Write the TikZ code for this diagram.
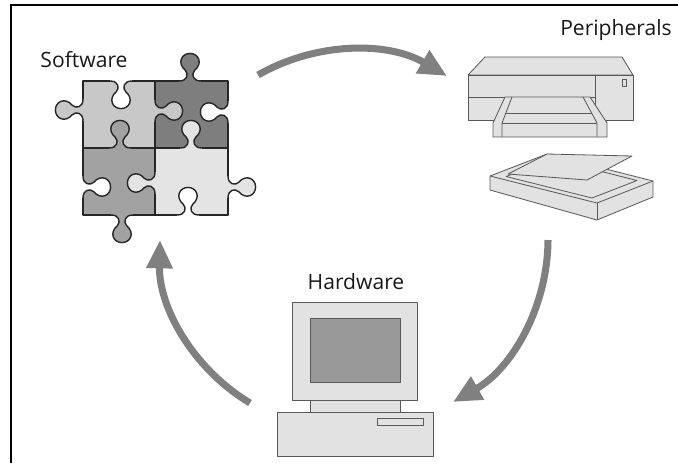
\documentclass[tikz,border=0pt]{standalone}
\usepackage{fontspec}
\setsansfont{Open Sans}
\usetikzlibrary{arrows.meta}

\definecolor{pieceA}{HTML}{C8C8C8}
\definecolor{pieceB}{HTML}{7E7E7E}
\definecolor{pieceC}{HTML}{A2A2A2}
\definecolor{pieceD}{HTML}{E4E4E4}
\definecolor{boxgrey}{HTML}{E2E2E2}
\definecolor{cyclegrey}{HTML}{808080}

\tikzset{
  piece line/.style={line width=1.2pt, color=black!85, line join=round},
  device/.style={line width=0.7pt, draw=black!65, fill=boxgrey, line join=round},
  label text/.style={font=\sffamily\fontsize{18}{20}\selectfont, text=black!90, anchor=base, inner sep=0pt},
  cycle arrow/.style={line width=6pt, color=cyclegrey, -{Triangle[length=0.85cm, width=0.75cm]}, bend left=30, looseness=0.92}
}

% one puzzle knob (or socket, when filled white) on an edge; local +y points out
\def\knob[#1](#2)(#3){
  \begin{scope}[shift={(#2)}, rotate=#3, scale=24]
    \fill[#1] (-0.45,-0.07) -- (-0.45,0) .. controls (-0.1,0) and (-0.05,0.3) .. (-0.2,0.45)
      .. controls (-0.55,0.75) and (-0.35,1.15) .. (0,1.15)
      .. controls (0.35,1.15) and (0.55,0.75) .. (0.2,0.45)
      .. controls (0.05,0.3) and (0.1,0) .. (0.45,0) -- (0.45,-0.07) -- cycle;
    \draw[piece line] (-0.45,0) .. controls (-0.1,0) and (-0.05,0.3) .. (-0.2,0.45)
      .. controls (-0.55,0.75) and (-0.35,1.15) .. (0,1.15)
      .. controls (0.35,1.15) and (0.55,0.75) .. (0.2,0.45)
      .. controls (0.05,0.3) and (0.1,0) .. (0.45,0);
  \end{scope}}

\begin{document}
\begin{tikzpicture}[x=0.03cm, y=0.03cm]
			%%%%% FRAME %%%%%
			\useasboundingbox (0,0) rectangle (678,-463);
			\draw[line width=1.6pt] (11,-463) -- (11,-5) -- (678,-5);
			
			%%%%% SOFTWARE %%%%%
			\node[label text] (software) at (84,-67) {Software};
			
			\fill[pieceA] (83,-81) rectangle (155,-148);
			\fill[pieceB] (155,-81) rectangle (228,-148);
			\fill[pieceC] (83,-148) rectangle (155,-215);
			\fill[pieceD] (155,-148) rectangle (228,-215);
			\draw[piece line] (83,-81) rectangle (228,-215);
			\draw[piece line] (155,-81) -- (155,-215);
			\draw[piece line] (83,-148) -- (228,-148);
			
			% knobs
			\knob[pieceB](190,-81)(0);
			\knob[pieceA](83,-110)(90);
			\knob[pieceA](155,-111)(-90);
			\knob[pieceC](120,-148)(0);
			\knob[pieceD](191,-148)(0);
			\knob[pieceD](155,-183)(90);
			\knob[pieceD](228,-187)(-90);
			\knob[pieceC](122,-215)(180);
			% sockets
			\knob[white](121,-81)(180);
			\knob[white](228,-112)(90);
			\knob[white](83,-187)(-90);
			\knob[white](188,-215)(0);
			
			%%%%% PERIPHERALS %%%%%
			\node[label text] (peripherals) at (616,-35) {Peripherals};
			
			% printer
			\draw[device] (468,-75) -- (485,-57) -- (622,-57) -- (633,-75) -- cycle;
			\draw[device] (468,-75) rectangle (633,-120);
			\draw[device] (595,-75) -- (595,-120);
			\draw[device] (468,-97) -- (595,-97);
			\draw[device] (622,-79) rectangle (626,-86);
			\draw[device] (505,-97) -- (493,-123) -- (493,-137) -- (607,-137) -- (607,-123) -- (590,-97) -- cycle;
			\draw[device] (512,-97) -- (502,-123) -- (502,-137);
			\draw[device] (583,-97) -- (597,-123) -- (597,-137);
			\draw[device] (502,-123) -- (597,-123);
			\draw[device] (506,-113) -- (592,-113);
			
			% scanner
			\draw[device] (490,-176) -- (547,-154) -- (653,-181) -- (653,-197) -- (597,-220) -- (490,-190) -- cycle;
			\draw[device] (490,-176) -- (597,-203) -- (653,-181);
			\draw[device] (597,-203) -- (597,-220);
			\draw[device] (506,-176.5) -- (552,-159) -- (637,-180.5) -- (592,-198) -- cycle;
			\draw[device] (508,-174) -- (547,-154) -- (632,-156) -- (587,-180) -- cycle;
			
			%%%%% HARDWARE %%%%%
			\node[label text] (hardware) at (356,-289) {Hardware};
			
			\draw[device] (292,-302) rectangle (417,-400);
			\draw[device, fill=black!40] (310,-318) rectangle (400,-382);
			\draw[device] (310,-400) rectangle (400,-412);
			\draw[device] (277,-412) rectangle (433,-456);
			\draw[device] (377,-418) rectangle (423,-425);
			
			%%%%% CYCLE %%%%%
			\coordinate (sw-out) at (258,-75);
			\coordinate (pe-in) at (447,-76);
			\coordinate (pe-out) at (548,-240);
			\coordinate (hw-in) at (453,-402);
			\coordinate (hw-out) at (250,-403);
			\coordinate (sw-in) at (160,-240);
			
			\draw[cycle arrow] (sw-out) to (pe-in);
			\draw[cycle arrow] (pe-out) to (hw-in);
			\draw[cycle arrow] (hw-out) to (sw-in);
			
\end{tikzpicture}
\end{document}
